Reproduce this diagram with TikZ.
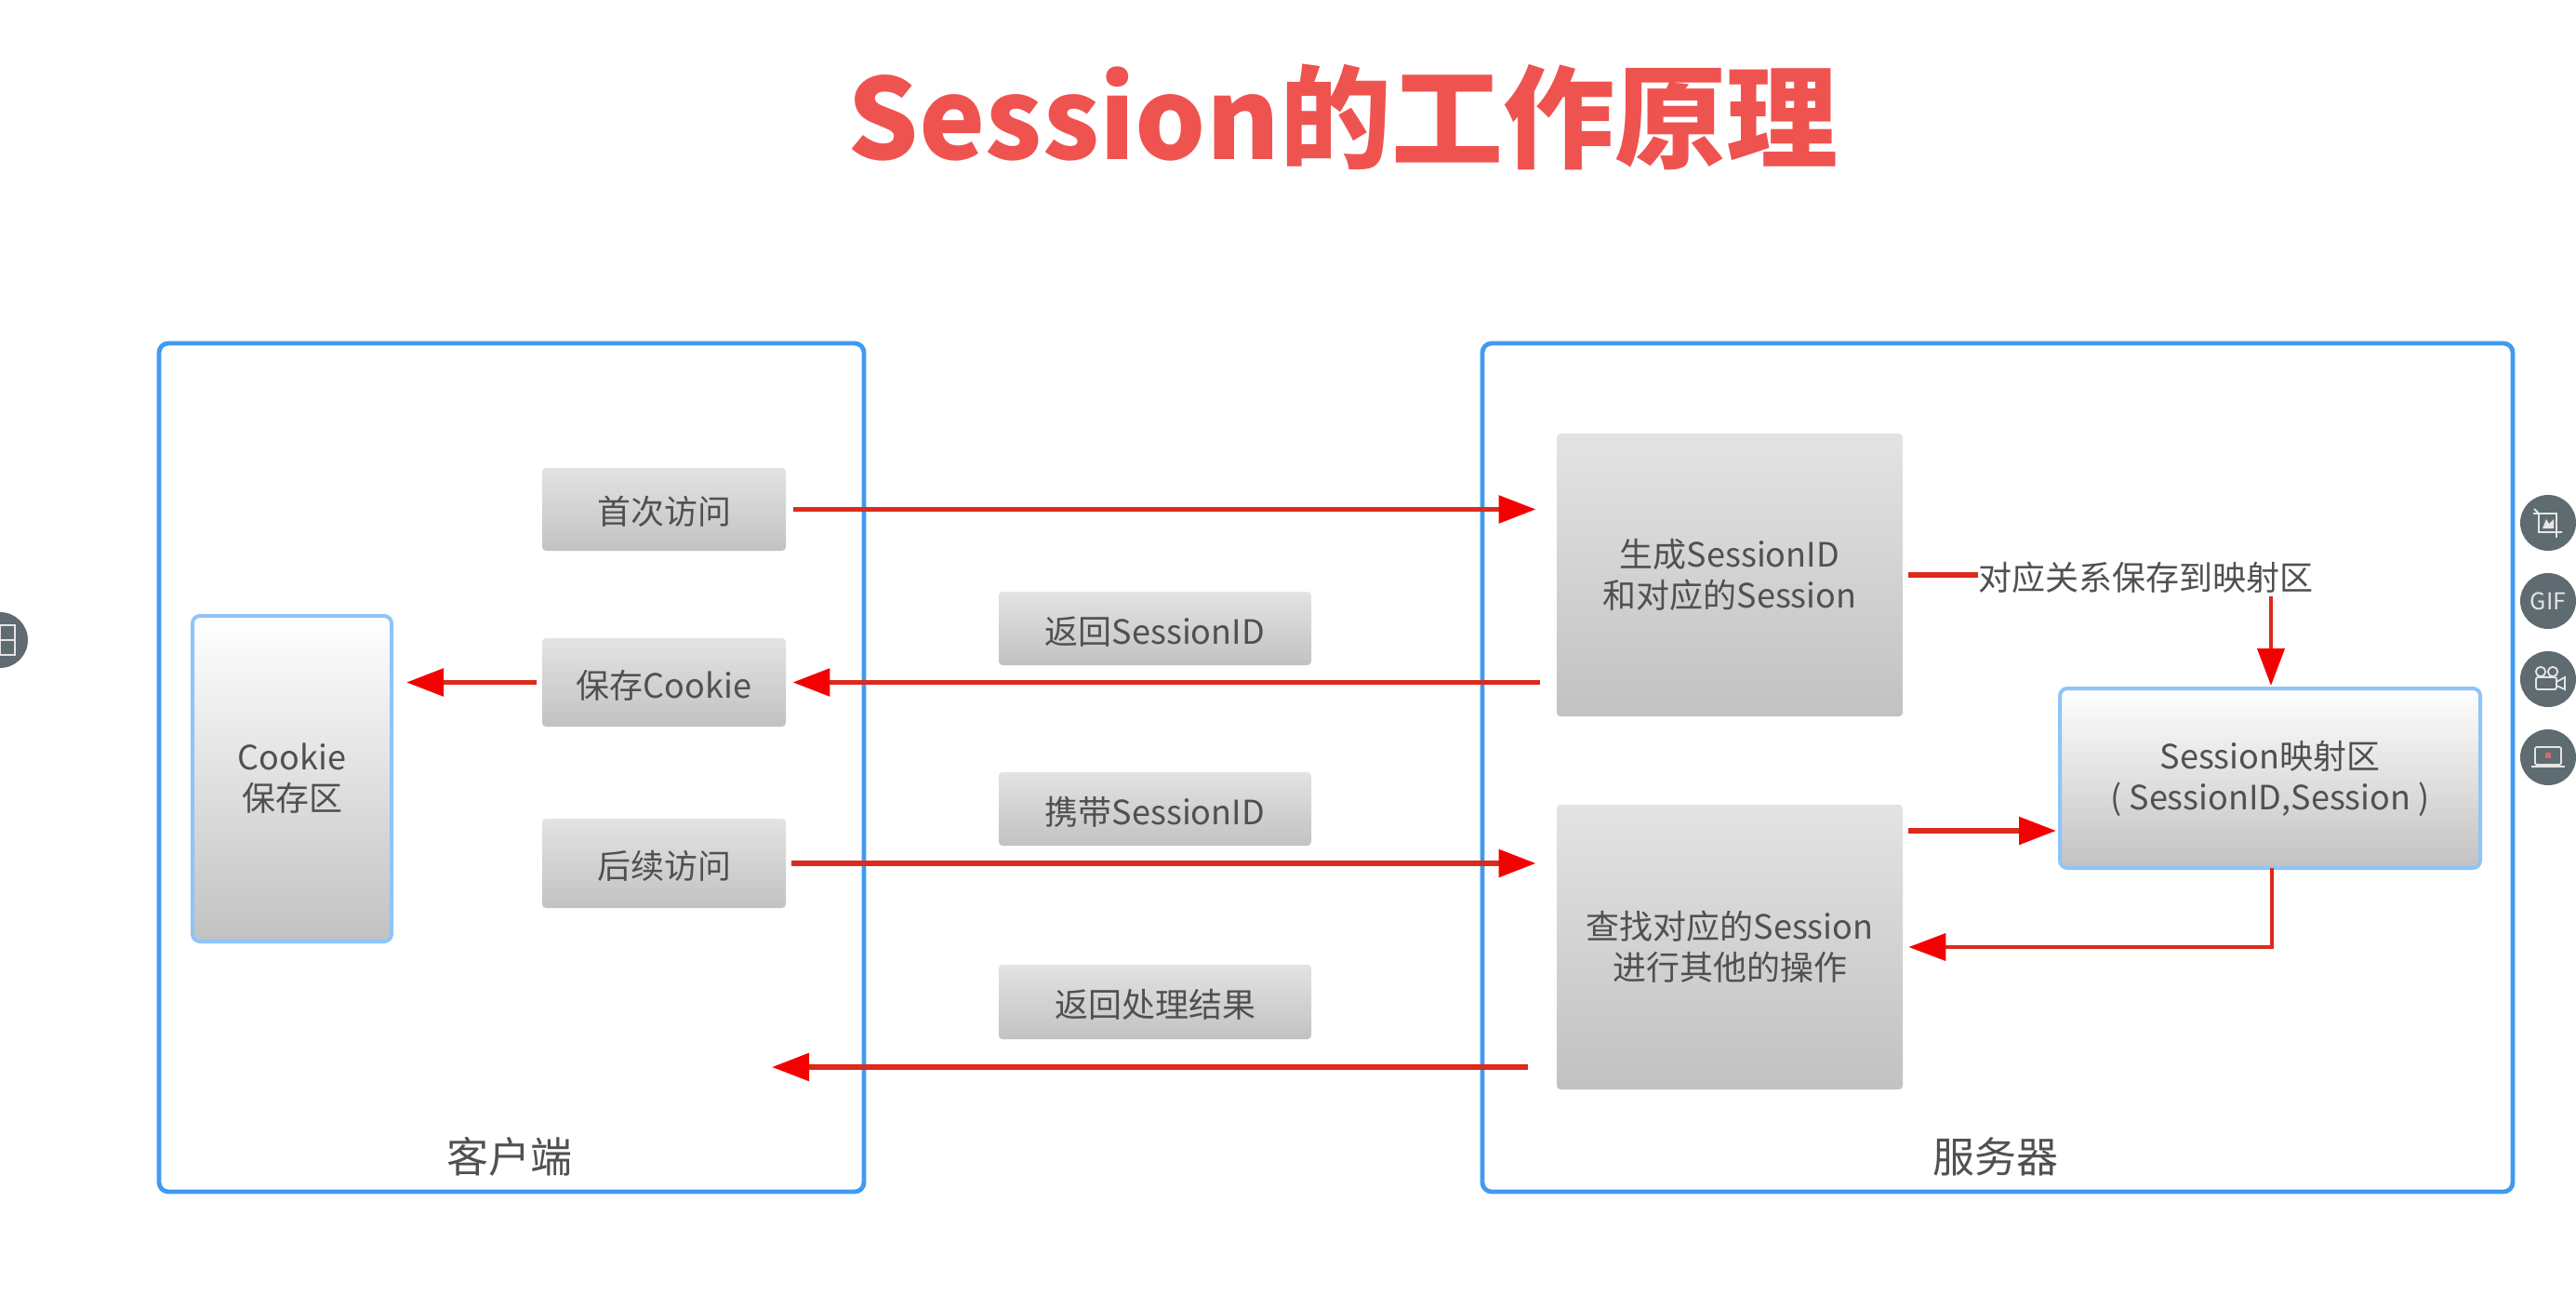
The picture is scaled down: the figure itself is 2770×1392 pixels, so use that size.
\documentclass[tikz,border=0pt]{standalone}
\usepackage{fontspec}
\setmainfont{Noto Sans CJK SC}
\usetikzlibrary{arrows.meta,calc}
\definecolor{frameblue}{HTML}{3F9BF2}
\definecolor{softblue}{HTML}{8FC4F8}
\definecolor{linered}{HTML}{DC2A1C}
\definecolor{tipred}{HTML}{F50000}
\definecolor{txt}{HTML}{505050}
\definecolor{titlered}{HTML}{EF5350}
\definecolor{uigray}{HTML}{5E6B70}
\definecolor{uired}{HTML}{D9686A}
\tikzset{
  x=0.5pt,y=-0.5pt,
  frame/.style={draw=frameblue,line width=2.4pt,rounded corners=5pt,fill=white},
  graybox/.style={rounded corners=2pt,top color=black!11,bottom color=black!24,text=txt,align=center,font=\fontsize{18}{22}\selectfont,inner sep=0pt,execute at begin node={\rule{0pt}{18pt}}},
  bluebox/.style={draw=softblue,line width=2pt,rounded corners=4pt,top color=white,bottom color=black!24,text=txt,align=center,font=\fontsize{18}{22}\selectfont,inner sep=0pt,execute at begin node={\rule{0pt}{22pt}}},
  plain/.style={text=txt,inner sep=0pt,font=\fontsize{18}{22}\selectfont},
  flow/.style={draw=linered,line width=2.8pt,-{Triangle[length=20pt,width=14.5pt,color=tipred]}},
  flowthin/.style={draw=linered,line width=2pt,-{Triangle[length=20pt,width=14.5pt,color=tipred]}},
  stub/.style={draw=linered,line width=2.8pt},
  uidot/.style={circle,fill=uigray,minimum size=30pt,inner sep=0pt},
  uiicon/.style={draw=white!90!black,line width=0.9pt}
}
\newcommand{\boxat}[6]{\node[#1,minimum width=#5*0.5pt-#3*0.5pt,minimum height=#6*0.5pt-#4*0.5pt] (#2) at ({(#3+#5)/2},{(#4+#6)/2})}
\begin{document}
\begin{tikzpicture}
\useasboundingbox (0,0) rectangle (2770,1392);
\fill[white] (0,0) rectangle (2770,1392);

\node[text=titlered,inner sep=0pt,font=\fontsize{60}{64}\selectfont\bfseries] (title) at (1444,126) {Session的工作原理};

\boxat{frame}{client}{171}{369}{929}{1281} {};
\boxat{frame}{server}{1594}{369}{2702}{1281} {};

\boxat{bluebox}{store}{207}{662}{421}{1012} {Cookie\\保存区};
\boxat{graybox}{first}{583}{503}{845}{592} {首次访问};
\boxat{graybox}{savec}{583}{686}{845}{781} {保存Cookie};
\boxat{graybox}{follow}{583}{880}{845}{976} {后续访问};

\boxat{graybox}{retid}{1074}{636}{1410}{715} {返回SessionID};
\boxat{graybox}{carry}{1074}{830}{1410}{909} {携带SessionID};
\boxat{graybox}{retres}{1074}{1037}{1410}{1117} {返回处理结果};

\boxat{graybox}{gen}{1674}{466}{2046}{770} {生成SessionID\\和对应的Session};
\boxat{graybox}{find}{1674}{865}{2046}{1171} {查找对应的Session\\进行其他的操作};
\boxat{bluebox}{map}{2215}{740}{2667}{933} {Session映射区\\( SessionID,Session )};

\node[plain] (relate) at (2307,621) {对应关系保存到映射区};
\node[plain,font=\fontsize{22.5}{25}\selectfont] (clabel) at (548,1243) {客户端};
\node[plain,font=\fontsize{22.5}{25}\selectfont] (slabel) at (2146,1243) {服务器};

\coordinate (retend) at (830,1147);
\coordinate (retstart) at (1643,1147);
\coordinate (mapdrop) at (2443,933);
\coordinate (downstart) at (2442,641);
\coordinate (downend) at (2442,737);
\coordinate (stubstart) at (2052,618);

\draw[flow,shorten <=4pt,shorten >=11pt] (first.east) -- (first.east -| gen.west);
\draw[flow,shorten <=9pt,shorten >=3.5pt] (gen.west |- savec.east) -- (savec.east);
\draw[flow,shorten <=3pt,shorten >=7pt] (savec.west) -- (savec.west -| store.east);
\draw[flow,shorten <=3pt,shorten >=11pt] (follow.east) -- (follow.east -| find.west);
\draw[flow] (retstart) -- (retend);
\draw[stub] (stubstart) -- (stubstart -| relate.west);
\draw[flowthin] (downstart) -- (downend);
\draw[flow,shorten <=3pt,shorten >=1pt] (find.east |- 0,893) -- (map.west |- 0,893);
\draw[flowthin,shorten >=3pt] (mapdrop) |- (find.east |- 0,1018);

% screen-edge tool buttons
\node[uidot] (b1) at (2740,562) {};
\node[uidot] (b2) at (2740,646) {};
\node[uidot] (b3) at (2740,730) {};
\node[uidot] (b4) at (2740,814) {};
\node[uidot] (b0) at (0,688) {};
\node[text=white!90!black,inner sep=0pt,font=\fontsize{12.5}{14}\selectfont] (giftext) at (b2) {GIF};
\draw[uiicon] ($(b1)+(-15,-15)$) -- ($(b1)+(-10,-10)$) -- ($(b1)+(-10,10)$) -- ($(b1)+(15,10)$);
\draw[uiicon] ($(b1)+(-16,-10)$) -- ($(b1)+(9,-10)$) -- ($(b1)+(9,16)$);
\fill[white!90!black] ($(b1)+(-6,6)$) -- ($(b1)+(-2,-4)$) -- ($(b1)+(1,1)$) -- ($(b1)+(6,-4)$) -- ($(b1)+(6,6)$) -- cycle;
\draw[uiicon,rounded corners=1pt] ($(b3)+(-13,-2)$) rectangle ($(b3)+(9,11)$);
\draw[uiicon] ($(b3)+(-8,-8)$) circle (2.6pt) ($(b3)+(5,-8)$) circle (2.6pt);
\draw[uiicon] ($(b3)+(9,3)$) -- ($(b3)+(18,-2)$) -- ($(b3)+(18,11)$) -- ($(b3)+(9,7)$);
\draw[uiicon,rounded corners=1pt] ($(b4)+(-14,-11)$) rectangle ($(b4)+(14,8)$);
\draw[uiicon] ($(b4)+(-18,10)$) -- ($(b4)+(18,10)$);
\fill[uired] ($(b4)+(-3,-5)$) rectangle ($(b4)+(3,1)$);
\draw[uiicon,line width=1.4pt] ($(b0)+(-16,-16)$) rectangle ($(b0)+(16,16)$);
\draw[uiicon,line width=1.4pt] ($(b0)+(-16,0)$) -- ($(b0)+(16,0)$) ($(b0)+(0,-16)$) -- ($(b0)+(0,16)$);
\end{tikzpicture}
\end{document}
